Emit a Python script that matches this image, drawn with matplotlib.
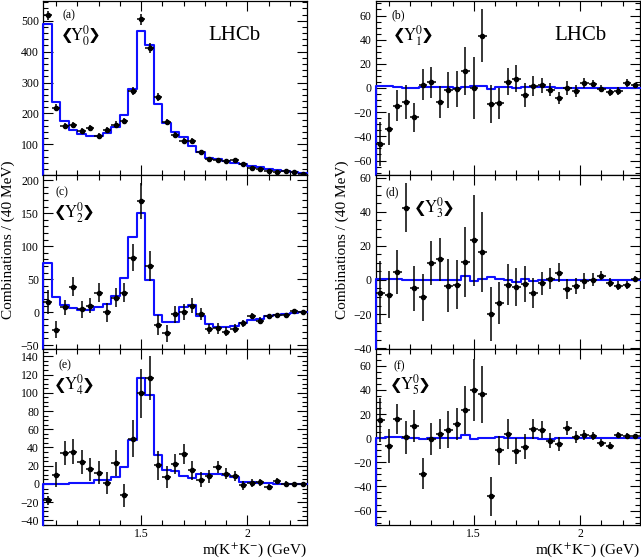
import numpy as np
import matplotlib
matplotlib.use('Agg')
import matplotlib.pyplot as plt
from matplotlib.ticker import MultipleLocator, FixedLocator

plt.rcParams['font.family'] = ['Liberation Serif', 'DejaVu Sans']
plt.rcParams['mathtext.fontset'] = 'stix'

# binning: 31 bins of 40 MeV starting at 1.04 GeV
m_lo = 1.04
bin_w = 0.04
n_bins = 31

# (a) <Y_0^0>
a_pts = [518, 219, 160, 162, 143, 153, 126, 146, 164, 175, 274, 505, 413, 253, 173, 131,
         112, 112, 74, 51, 50, 46, 49, 35, 23, 20, 14, 11, 12, 9, 5]
a_err = [14, 10, 9, 9, 9, 9, 9, 9, 10, 10, 13, 18, 16, 12, 10, 8,
         8, 8, 6, 5, 5, 5, 5, 4, 4, 4, 3, 3, 3, 3, 2]
a_fit = [489, 237, 176, 147, 134, 128, 128, 135, 156, 195, 278, 468, 422, 232, 168, 141,
         125, 96, 76, 55, 51, 45, 39, 37, 30, 25, 20, 16, 14, 11, 7]

# (b) <Y_1^0>
b_pts = [-46.3, -34, -14.6, -11.9, -24, 2.8, 4.7, -11.6, -1.9, -0.8, 13.8, 0, 43.3, -13.2, -12.7, 5.2,
         7.7, -5.8, 1.7, 2.2, -1.4, -8, 0, -2.8, 3.9, 3.6, -0.6, -3.6, -2.5, 4.1, 2.5]
b_err = [18, 13, 13, 14, 12, 13, 13, 13, 15, 15, 20, 26, 22, 16, 13, 11,
         11, 10, 8.5, 6, 5.5, 5, 5.5, 5, 4, 3, 3, 3, 3, 3, 2]
b_fit = [1.6, 1.3, 0.5, 0, 0, 0.8, 0.8, 0.6, 0.8, 0.3, 0.8, 2, 1.4, -0.8, 0.5, 0.5,
         0.4, 0.5, 0.8, 0.6, 0.5, 0.4, 0.4, 0.4, 0.4, 0.4, 0.4, 0.4, 0.4, 0.4, 0.4]

# (c) <Y_2^0>
c_pts = [15.3, -27, 7, 38.8, 4, 10, 29.6, -0.5, 22, 29.6, 82.6, 169, 70.4, -19, -32, -3,
         0, 10, -2.5, -25.5, -24.5, -29.6, -25, -17.3, -6, -12.8, -6.6, -4, -4.6, 1, 0]
c_err = [18, 13, 12, 14, 13, 12, 14, 14, 15, 15, 20, 27, 23, 15, 13, 13,
         12, 11, 9, 8, 8, 7, 7, 6, 5, 5, 4, 3, 3, 3, 2]
c_fit = [74, 22.4, 10.2, 6, 3, 3.6, 7.7, 12.8, 24, 51, 113.8, 151, 49, -4, -14.8, -15.3,
         7.7, 11, -6.6, -18.4, -22, -22.4, -20.4, -15.8, -11.7, -10, -6.6, -4, -2.5, -1.5, -0.5]

# (d) <Y_3^0>
d_pts = [-7.4, -8.6, 4.5, 42.3, -5, -10.1, 10.1, 12.1, -3.5, -2.7, 10.5, 23.2, 16.2, -20.1, -13.7, -2.7,
         -4.1, -2.5, -7.8, -2.1, 0.6, 4.1, -5.3, -3.5, -0.8, 0, 2.5, -1.6, -3.3, -2.9, 0.8]
d_err = [18.5, 13.7, 13, 14.4, 13, 13.7, 13, 12.7, 15.6, 14.3, 20.5, 26.8, 23.4, 15.8, 12.2, 12.2,
         11.2, 10.5, 8.8, 6.8, 6.2, 5.6, 6, 4.6, 4.6, 3.8, 2.5, 2.7, 2.5, 2.5, 1.5]
d_fit = [0.3, 0.8, 0.8, 0, 0.2, 0.2, 0.2, 0.2, 0.2, 0.2, 2.2, -0.8, 0.3, 1.6, 0.4, 0,
         -1.2, 0.8, -0.4, 0.2, 0.2, 0.2, 0.2, 0.2, 0.2, 0.2, 0.2, 0.2, 0.2, 0.2, 0.2]

# (e) <Y_4^0>
e_pts = [-18, 10.3, 33.6, 35.4, 24, 15.9, 12.2, 1.1, 23.2, -12.5, 49.8, 99.6, 116.6, 20.3, 7.7, 22.1,
         33.2, 14.8, 4.8, 8.5, 18.8, 11, 8.5, -1.5, 1.1, 1.8, -3, 3, 0.4, 0, 0.4]
e_err = [5, 14, 13, 14, 13, 13, 12.5, 12.5, 14, 13, 20, 27, 24, 16, 12, 11,
         11, 10, 8, 7, 6.5, 6, 5.5, 5, 4, 4, 3, 3, 2.5, 2, 2]
e_fit = [-0.5, 0, 0.4, 0.7, 0.7, 1.1, 4, 4.4, 8.1, 18.8, 48, 116, 98, 32, 15, 14,
         8.5, 6.6, 11, 11, 11, 9.6, 7.4, 2.6, 1.8, 1.5, 0.7, 0.4, 0.4, 0.4, 0.4]

# (f) <Y_5^0>
f_pts = [15.1, -6.3, 16, 0.6, 10.2, -29.5, -0.6, 3.6, 6.9, 11.8, 23.4, 40, 36.3, -48.2, -9.9, 3.6,
         -10.7, -6.9, 7.7, 6.9, -2.2, -4.7, 8.3, 0.8, 2.8, 1.7, -3.9, -6.1, 2.8, 1.9, 1.9]
f_err = [18, 14, 12.4, 14, 13.4, 13, 13, 12.2, 15.4, 13, 20, 26, 23.4, 16, 12, 12.2,
         11, 10, 8, 7, 6.2, 5.5, 5.8, 4.8, 4.1, 3.6, 3, 3, 2.5, 2.5, 2]
f_fit = [0.4, 0.6, 0.6, 0.4, 0.4, -0.3, 0, 0.3, 0.3, 0.3, 2.8, -0.4, 0, 0.3, 1, 0.4,
         0.3, 0.3, 0.2, -0.5, -0.5, 0.2, 0.2, 0.2, 0.2, 0.2, 0.2, 0.2, 0.2, 0.2, 0.2]

panels = [
    # tag, moment index, pts, err, fit, ylim, major, minor
    ('(a)', '0', a_pts, a_err, a_fit, (0.5, 564), 100, 20),
    ('(b)', '1', b_pts, b_err, b_fit, (-72, 72), 20, 5),
    ('(c)', '2', c_pts, c_err, c_fit, (-56, 208), 50, 10),
    ('(d)', '3', d_pts, d_err, d_fit, (-40.5, 61.5), 20, 5),
    ('(e)', '4', e_pts, e_err, e_fit, (-45, 148), 20, 5),
    ('(f)', '5', f_pts, f_err, f_fit, (-72, 74), 20, 5),
]

W, H = 641, 560
fig = plt.figure(figsize=(W / 100, H / 100), dpi=100)

col_x = [43.3, 376]
col_w = 263.7
rows = [(1, 175), (175, 349), (349, 525)]   # pixel top/bottom of each row

# text positions (axes fraction)
tag_pos = [(0.099, 0.92), (0.085, 0.92), (0.07, 0.90), (0.061, 0.90), (0.082, 0.91), (0.087, 0.90)]
ylm_pos = [(0.14, 0.80), (0.14, 0.80), (0.115, 0.786), (0.22, 0.81), (0.115, 0.795), (0.128, 0.795)]

edges = m_lo + bin_w * np.arange(n_bins + 1)
centers = edges[:-1] + bin_w / 2

for i, (tag, k, pts, err, fit, ylim, maj, mnr) in enumerate(panels):
    r, c = i // 2, i % 2
    top, bot = rows[r]
    ax = fig.add_axes([col_x[c] / W, 1 - bot / H, col_w / W, (bot - top) / H])
    ax.set_xlim(edges[0], edges[-1])
    ax.set_ylim(*ylim)

    # fit histogram, ROOT-like with the left edge going down to the frame
    ax.plot(np.r_[edges[0], edges], np.r_[ylim[0], fit, fit[-1]], drawstyle='steps-post',
            color='#1010ff', lw=1.5, zorder=3, clip_on=False)
    ax.errorbar(centers, pts, yerr=err, xerr=bin_w / 2, fmt='o', color='black', ms=3,
                elinewidth=1.1, capsize=0, zorder=4)

    ax.xaxis.set_major_locator(FixedLocator([1.5, 2.0]))
    ax.xaxis.set_minor_locator(MultipleLocator(0.1))
    ax.yaxis.set_major_locator(MultipleLocator(maj))
    ax.yaxis.set_minor_locator(MultipleLocator(mnr))
    ax.tick_params(which='both', direction='in', top=True, right=True, labelsize=8.5, pad=3)
    ax.tick_params(axis='x', pad=2.5)
    ax.tick_params(which='major', length=7, width=0.8)
    ax.tick_params(which='minor', length=3.5, width=0.8)
    if r < 2:
        ax.tick_params(labelbottom=False)
    else:
        ax.set_xticklabels(['1.5', '2'])
    for s in ax.spines.values():
        s.set_linewidth(0.9)

    ax.text(*tag_pos[i], tag, transform=ax.transAxes, ha='center', va='center', fontsize=8.5)
    # moment label: heavy chevrons around Y^0_k
    x0, y0 = ylm_pos[i]
    ax.text(x0, y0, '$\\mathrm{Y}^{0}_{%s}$' % k, transform=ax.transAxes,
            ha='center', va='center', fontsize=12)
    ax.annotate('\u276e', xy=(x0, y0), xycoords='axes fraction', xytext=(-5, 0),
                textcoords='offset points', ha='right', va='center', fontsize=11,
                family='DejaVu Sans', fontweight='bold')
    ax.annotate('\u276f', xy=(x0, y0), xycoords='axes fraction', xytext=(5.5, 0),
                textcoords='offset points', ha='left', va='center', fontsize=11,
                family='DejaVu Sans', fontweight='bold')
    if r == 0:
        ax.text(0.726 if c == 0 else 0.775, 0.80, 'LHCb', transform=ax.transAxes,
                ha='center', va='center', fontsize=15)

for c in range(2):
    fig.text((col_x[c] + col_w) / W, 1 - 550 / H, 'm(K$^{+}$K$^{-}$) (GeV)',
             ha='right', va='center', fontsize=11)
    fig.text((8 if c == 0 else 342) / W, 1 - 240 / H, 'Combinations / (40 MeV)',
             rotation=90, ha='center', va='center', fontsize=11)

fig.savefig('out.png', dpi=100)
